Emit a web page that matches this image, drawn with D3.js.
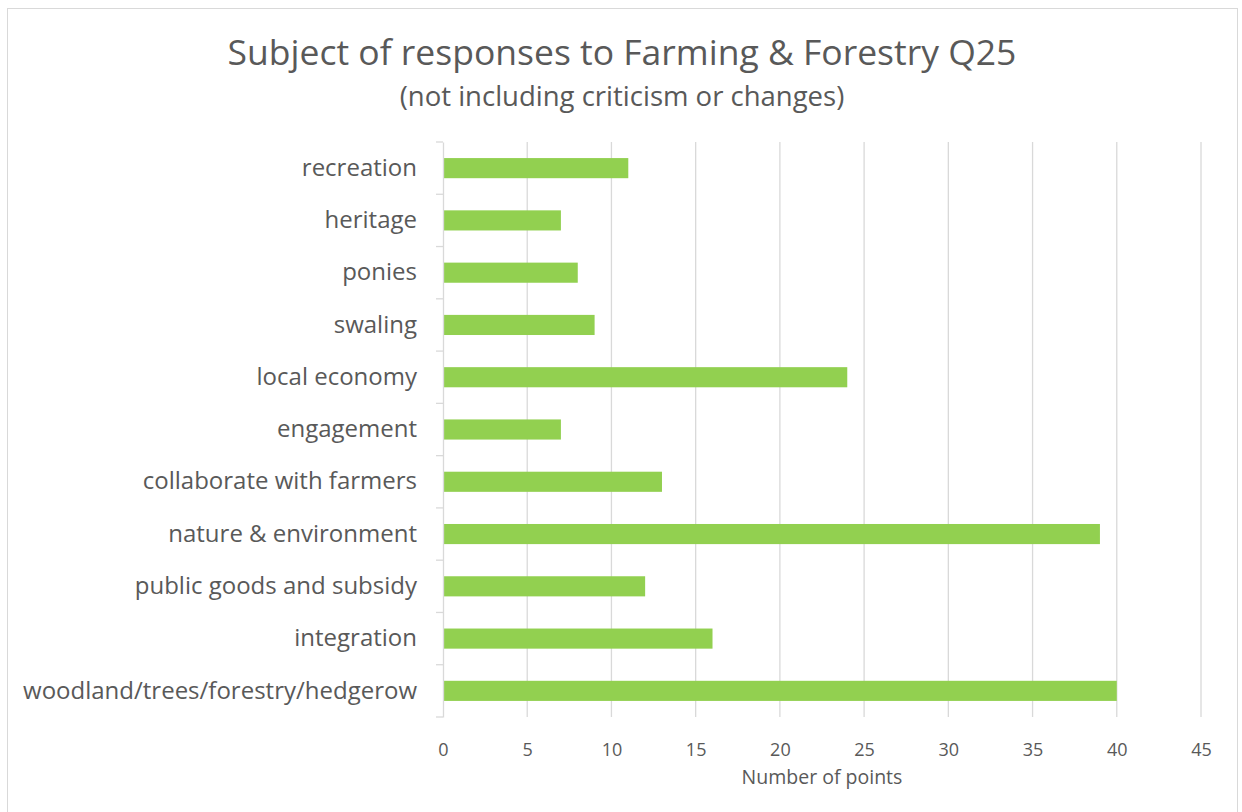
<!DOCTYPE html>
<html>
<head>
<meta charset="utf-8">
<script src="https://cdn.jsdelivr.net/npm/d3@7"></script>
<style>
  html, body { margin: 0; padding: 0; background: #fff; }
  svg { display: block; }
  text { font-family: "Open Sans", "Noto Sans", sans-serif; }
</style>
</head>
<body>
<svg id="chart" width="1242" height="812"></svg>
<script>
// Categories, top to bottom
const categories = [
  "recreation",
  "heritage",
  "ponies",
  "swaling",
  "local economy",
  "engagement",
  "collaborate with farmers",
  "nature & environment",
  "public goods and subsidy",
  "integration",
  "woodland/trees/forestry/hedgerow"
];
// Number of points per subject
const values = [11, 7, 8, 9, 24, 7, 13, 39, 12, 16, 40];
const xTicks = [0, 5, 10, 15, 20, 25, 30, 35, 40, 45];

const titleText = "Subject of responses to Farming & Forestry Q25";
const subtitleText = "(not including criticism or changes)";
const xTitleText = "Number of points";

const svg = d3.select("#chart");
const plot = { left: 443, right: 1201, top: 142, bottom: 717 };

// Outer chart border
svg.append("rect")
  .attr("x", 7.5).attr("y", 8.5)
  .attr("width", 1230).attr("height", 820)
  .attr("fill", "#fff").attr("stroke", "#d9d9d9").attr("stroke-width", 1);

const x = d3.scaleLinear().domain([0, 45]).range([plot.left, plot.right]);
const y = d3.scaleBand().domain(categories).range([plot.top, plot.bottom])
  .paddingInner(0.615).paddingOuter(0.3075);
const yOuter = d3.scaleBand().domain(categories).range([plot.top, plot.bottom]);

// Vertical gridlines
svg.append("g").selectAll("line").data(xTicks.filter(d => d > 0)).join("line")
  .attr("x1", d => x(d)).attr("x2", d => x(d))
  .attr("y1", plot.top).attr("y2", plot.bottom)
  .attr("stroke", "#d9d9d9").attr("stroke-width", 1.3);

// Bars
svg.append("g").selectAll("rect").data(categories).join("rect")
  .attr("x", x(0))
  .attr("y", d => y(d))
  .attr("width", (d, i) => x(values[i]) - x(0))
  .attr("height", y.bandwidth())
  .attr("fill", "#92d050");

// Category axis
const yAxis = d3.axisLeft(yOuter).tickSize(0).tickPadding(26);
const gy = svg.append("g").attr("transform", `translate(${plot.left},0)`).call(yAxis);
gy.select(".domain").attr("stroke", "#d9d9d9").attr("stroke-width", 1.3);
gy.selectAll(".tick text")
  .attr("fill", "#595959")
  .style("font-size", "24px");
// Tick marks between categories
const boundaries = categories.map(c => yOuter(c)).concat([plot.bottom]);
svg.append("g").selectAll("line").data(boundaries).join("line")
  .attr("x1", plot.left - 7).attr("x2", plot.left)
  .attr("y1", d => d).attr("y2", d => d)
  .attr("stroke", "#d9d9d9").attr("stroke-width", 1.3);

// Value axis
const xAxis = d3.axisBottom(x).tickValues(xTicks).tickSize(0).tickPadding(26);
const gx = svg.append("g").attr("transform", `translate(0,${plot.bottom})`).call(xAxis);
gx.select(".domain").remove();
gx.selectAll(".tick text")
  .attr("fill", "#595959")
  .style("font-size", "18px");

// Titles
svg.append("text")
  .attr("x", 622).attr("y", 65)
  .attr("text-anchor", "middle")
  .attr("fill", "#595959")
  .style("font-size", "35.5px")
  .text(titleText);

svg.append("text")
  .attr("x", 622).attr("y", 106)
  .attr("text-anchor", "middle")
  .attr("fill", "#595959")
  .style("font-size", "27.5px")
  .text(subtitleText);

svg.append("text")
  .attr("x", 822).attr("y", 784)
  .attr("text-anchor", "middle")
  .attr("fill", "#595959")
  .style("font-size", "19.5px")
  .text(xTitleText);
</script>
</body>
</html>
